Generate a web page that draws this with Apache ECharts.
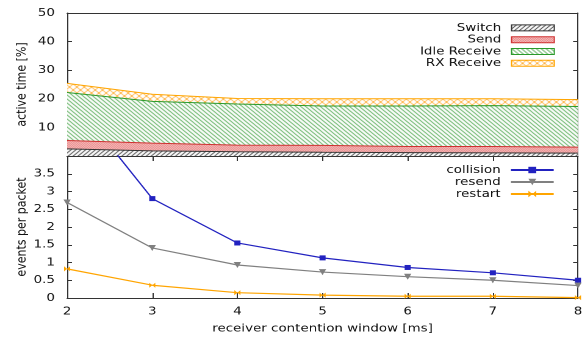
<!DOCTYPE html>
<html>
<head>
<meta charset="utf-8">
<script src="https://cdn.jsdelivr.net/npm/echarts@6/dist/echarts.min.js"></script>
<style>
  html, body { margin: 0; padding: 0; background: #ffffff; overflow: hidden; }
  /* the figure is laid out narrower and widened horizontally */
  #main { width: 477px; height: 339px; transform: scaleX(1.2201); transform-origin: 0 0; }
</style>
</head>
<body>
<div id="main"></div>
<script>
// receiver contention window [ms]
const windowMs = [2, 3, 4, 5, 6, 7, 8];

// active time [%] per radio state (stacked)
const switchPct = [2.5, 1.8, 1.5, 1.3, 1.2, 1.1, 1.0];
const sendPct   = [2.9, 2.7, 2.3, 2.4, 2.1, 2.2, 2.1];
const idleRxPct = [16.8, 14.6, 14.4, 13.8, 14.2, 14.3, 14.2];
const rxPct     = [3.2, 2.5, 1.9, 2.5, 2.5, 2.4, 2.4];

// events per packet
const collision = [5.8, 2.8, 1.55, 1.13, 0.86, 0.71, 0.5];
const resend    = [2.69, 1.41, 0.93, 0.73, 0.60, 0.50, 0.35];
const restart   = [0.82, 0.36, 0.15, 0.08, 0.05, 0.05, 0.01];

const FONT = 'DejaVu Sans';
const AXIS = '#333333';

function tile(w, h, bg, draw) {
  const c = document.createElement('canvas');
  c.width = w; c.height = h;
  const g = c.getContext('2d');
  g.fillStyle = bg; g.fillRect(0, 0, w, h);
  draw(g);
  return { image: c, repeat: 'repeat' };
}
function diag(g, w, h, color, rising) {
  g.strokeStyle = color; g.lineWidth = 1;
  g.beginPath();
  for (let k = -1; k <= 1; k++) {
    if (rising) { g.moveTo(k * w, h); g.lineTo(k * w + w, 0); }
    else { g.moveTo(k * w, 0); g.lineTo(k * w + w, h); }
  }
  g.stroke();
}

const patSwitch = tile(4, 4, '#ffffff', g => diag(g, 4, 4, '#202020', true));
const patSend = tile(2, 2, '#fbdcdc', g => { g.fillStyle = '#e46c6c'; g.fillRect(0, 0, 1, 1); g.fillRect(1, 1, 1, 1); });
const patIdle = tile(4, 4, '#ffffff', g => diag(g, 4, 4, '#3a9e3a', false));
const patRx = tile(6, 6, '#ffffff', g => { diag(g, 6, 6, '#ffb444', true); diag(g, 6, 6, '#ffb444', false); });

const categories = windowMs.map(String);
const xy = (ys) => windowMs.map((x, i) => [x, ys[i]]);

function areaSeries(name, ys, line, pat) {
  return {
    name, type: 'line', stack: 'active', xAxisIndex: 0, yAxisIndex: 0,
    data: ys.slice(), symbol: 'none', color: line,
    lineStyle: { color: line, width: 1 },
    areaStyle: { color: pat, opacity: 1 },
    emphasis: { disabled: true }, animation: false
  };
}
function lineSeries(name, ys, color, symbol, size, extra) {
  return Object.assign({
    name, type: 'line', xAxisIndex: 2, yAxisIndex: 2,
    data: xy(ys), color, symbol, symbolSize: size, clip: true,
    lineStyle: { color, width: 1.2 },
    itemStyle: { color },
    emphasis: { disabled: true }, animation: false
  }, extra || {});
}

const axisLine = { show: true, onZero: false, lineStyle: { color: AXIS, width: 1 } };
const catX = { type: 'category', data: categories, boundaryGap: false, splitLine: { show: false }, axisLine };
const valX = { type: 'value', min: 2, max: 8, interval: 1, splitLine: { show: false }, axisLine };
const baseY = { type: 'value', splitLine: { show: false }, axisLine };
const tickIn = (len) => ({ show: true, inside: true, length: len, lineStyle: { color: AXIS } });
const labelStyle = { color: '#111', fontFamily: FONT, fontSize: 11 };

const chart = echarts.init(document.getElementById('main'), null, { renderer: 'canvas', devicePixelRatio: 2 });
chart.setOption({
  animation: false,
  backgroundColor: '#ffffff',
  textStyle: { fontFamily: FONT },
  grid: [
    { left: 55, right: 3.3, top: 13, height: 143, containLabel: false, outerBoundsMode: 'none' },
    { left: 55, right: 3.3, top: 156, height: 142, containLabel: false, outerBoundsMode: 'none' }
  ],
  xAxis: [
    Object.assign({}, catX, { gridIndex: 0, position: 'bottom', axisTick: tickIn(5), axisLabel: { show: false } }),
    Object.assign({}, catX, { gridIndex: 0, position: 'top', axisTick: { show: false }, axisLabel: { show: false } }),
    Object.assign({}, valX, { gridIndex: 1, position: 'bottom', axisTick: tickIn(5),
      axisLabel: Object.assign({ margin: 8 }, labelStyle),
      name: 'receiver contention window [ms]', nameLocation: 'middle', nameGap: 25, nameMoveOverlap: false,
      nameTextStyle: labelStyle }),
    Object.assign({}, valX, { gridIndex: 1, position: 'top', axisTick: tickIn(5), axisLabel: { show: false } })
  ],
  yAxis: [
    Object.assign({}, baseY, { gridIndex: 0, position: 'left', min: 0, max: 50, interval: 10,
      axisTick: tickIn(4), axisLabel: Object.assign({ margin: 10, showMinLabel: false }, labelStyle),
      name: 'active time [%]', nameLocation: 'middle', nameGap: 31.5, nameMoveOverlap: false,
      nameTextStyle: labelStyle }),
    Object.assign({}, baseY, { gridIndex: 0, position: 'right', min: 0, max: 50, interval: 10,
      axisTick: tickIn(4), axisLabel: { show: false } }),
    Object.assign({}, baseY, { gridIndex: 1, position: 'left', min: 0, max: 4, interval: 0.5,
      axisTick: tickIn(4), axisLabel: Object.assign({ margin: 10, showMaxLabel: false }, labelStyle),
      name: 'events per packet', nameLocation: 'middle', nameGap: 31.5, nameMoveOverlap: false,
      nameTextStyle: labelStyle }),
    Object.assign({}, baseY, { gridIndex: 1, position: 'right', min: 0, max: 4, interval: 0.5,
      axisTick: tickIn(4), axisLabel: { show: false } })
  ],
  legend: [
    {
      orient: 'vertical', right: 17.2, top: 17, align: 'right',
      itemWidth: 35, itemHeight: 6, itemGap: 0, selectedMode: false,
      textStyle: { fontFamily: FONT, fontSize: 11, color: '#111', lineHeight: 11.8, padding: [0, 3.5, 0, 0] },
      data: [
        { name: 'Switch', icon: 'rect', itemStyle: { color: patSwitch, borderColor: '#333', borderWidth: 1 } },
        { name: 'Send', icon: 'rect', itemStyle: { color: patSend, borderColor: '#d03030', borderWidth: 1 } },
        { name: 'Idle Receive', icon: 'rect', itemStyle: { color: patIdle, borderColor: '#2a9a2a', borderWidth: 1 } },
        { name: 'RX Receive', icon: 'rect', itemStyle: { color: patRx, borderColor: '#ffa500', borderWidth: 1 } }
      ]
    },
    {
      orient: 'vertical', right: 17.2, top: 159, align: 'right',
      itemWidth: 35, itemHeight: 8, itemGap: 0, selectedMode: false,
      textStyle: { fontFamily: FONT, fontSize: 11, color: '#111', lineHeight: 12, padding: [0, 3.5, 0, 0] },
      data: ['collision', 'resend', 'restart']
    }
  ],
  series: [
    areaSeries('Switch', switchPct, '#333333', patSwitch),
    areaSeries('Send', sendPct, '#d03030', patSend),
    areaSeries('Idle Receive', idleRxPct, '#2a9a2a', patIdle),
    areaSeries('RX Receive', rxPct, '#ffa500', patRx),
    lineSeries('collision', collision, '#2222c0', 'rect', 5),
    lineSeries('resend', resend, '#808080', 'triangle', 6, { symbolRotate: 180 }),
    lineSeries('restart', restart, '#ffa500', 'path://M0,0L10,10L10,0L0,10Z', 5)
  ]
});
</script>
</body>
</html>
